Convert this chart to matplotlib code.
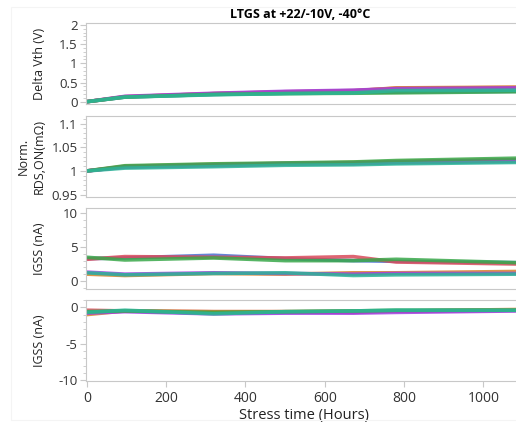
import matplotlib
matplotlib.use("Agg")
import matplotlib.pyplot as plt
from matplotlib.ticker import AutoMinorLocator

plt.rcParams['font.family'] = ['Open Sans', 'DejaVu Sans']

# stress time points (hours)
hours = [0, 96, 320, 500, 672, 780, 1086]

# delta Vth (V)
vth = {
    'blue':   [0, 0.12, 0.19, 0.22, 0.24, 0.25, 0.27],
    'red':    [0, 0.13, 0.21, 0.26, 0.29, 0.35, 0.37],
    'green':  [0, 0.12, 0.19, 0.21, 0.22, 0.23, 0.26],
    'purple': [0, 0.14, 0.22, 0.27, 0.30, 0.34, 0.36],
    'orange': [0, 0.13, 0.21, 0.25, 0.28, 0.36, 0.38],
    'teal':   [0, 0.12, 0.18, 0.21, 0.23, 0.29, 0.30],
}

# normalised RDS,ON
rds = {
    'blue':   [1, 1.008, 1.011, 1.014, 1.015, 1.017, 1.020],
    'red':    [1, 1.009, 1.012, 1.015, 1.016, 1.019, 1.022],
    'green':  [1, 1.011, 1.015, 1.017, 1.019, 1.022, 1.027],
    'purple': [1, 1.009, 1.013, 1.016, 1.017, 1.019, 1.023],
    'orange': [1, 1.010, 1.014, 1.016, 1.018, 1.020, 1.024],
    'teal':   [1, 1.006, 1.009, 1.012, 1.013, 1.015, 1.018],
}

# IGSS positive gate bias (nA)
igss_pos = {
    'blue':   [3.3, 3.4, 3.8, 3.3, 3.0, 2.9, 2.7],
    'red':    [3.2, 3.6, 3.5, 3.4, 3.6, 2.8, 2.5],
    'green':  [3.5, 3.1, 3.4, 3.0, 3.0, 3.2, 2.7],
    'purple': [1.3, 1.0, 1.2, 1.1, 1.0, 1.1, 1.1],
    'orange': [1.0, 0.8, 1.1, 1.0, 1.2, 1.2, 1.4],
    'teal':   [1.2, 0.9, 1.1, 1.2, 0.8, 0.9, 1.0],
}

# IGSS negative gate bias (nA)
igss_neg = {
    'blue':   [-0.7, -0.5, -0.8, -0.7, -0.6, -0.5, -0.4],
    'red':    [-0.4, -0.5, -0.6, -0.6, -0.7, -0.5, -0.4],
    'green':  [-0.6, -0.5, -0.7, -0.6, -0.5, -0.4, -0.4],
    'purple': [-0.8, -0.6, -0.9, -0.8, -0.8, -0.7, -0.5],
    'orange': [-1.0, -0.5, -0.6, -0.6, -0.5, -0.5, -0.3],
    'teal':   [-0.7, -0.4, -0.9, -0.6, -0.5, -0.4, -0.4],
}

colori = {
    'blue': '#4a6fd0', 'red': '#d94a5a', 'orange': '#d9822b',
    'purple': '#a03ee0', 'green': '#3aa84a', 'teal': '#2bb596',
}

pannelli = [
    (vth, 'Delta Vth (V)', (-0.06, 2.05), [0, 0.5, 1, 1.5, 2], ['0', '0.5', '1', '1.5', '2']),
    (rds, 'Norm.\nRDS,ON(m\u03a9)', (0.945, 1.116), [0.95, 1, 1.05, 1.1], ['0.95', '1', '1.05', '1.1']),
    (igss_pos, 'IGSS (nA)', (-1.2, 10.8), [0, 5, 10], ['0', '5', '10']),
    (igss_neg, 'IGSS (nA)', (-10.1, 1.0), [-10, -5, 0], ['-10', '-5', '0']),
]

fig = plt.figure(figsize=(5.16, 4.22), dpi=100)
fig.patches.append(plt.Rectangle((11 / 516, 2 / 422), 1, 413 / 422, transform=fig.transFigure,
                                 fill=False, edgecolor='#f4f4f4', lw=0.8))

bottoms = [1 - 104 / 422, 1 - 197 / 422, 1 - 289 / 422, 1 - 381 / 422]
h = 81 / 422
grigio = '#c8c8c8'
ordine = ['blue', 'red', 'orange', 'purple', 'green', 'teal']

for i, (dati, etichetta, ylim, ticks, tlab) in enumerate(pannelli):
    ax = fig.add_axes([86 / 516, bottoms[i], 1 - 86 / 516 + 0.01, h])
    for nome in ordine:
        ax.plot(hours, dati[nome], color=colori[nome], lw=2.6, alpha=0.85)
    ax.set_xlim(-2, 1095)
    ax.set_ylim(*ylim)
    ax.set_yticks(ticks)
    ax.set_yticklabels(tlab)
    ax.yaxis.set_minor_locator(AutoMinorLocator())
    for s in ax.spines.values():
        s.set_color(grigio)
    ax.spines['right'].set_visible(False)
    ax.tick_params(axis='y', colors=grigio, labelcolor='#333333', labelsize=9.5, length=4, pad=2)
    ax.tick_params(axis='y', which='minor', colors=grigio, length=2)
    ax.set_ylabel(etichetta, fontsize=9, color='#222222', linespacing=1.3,
                  multialignment='center')
    ax.yaxis.set_label_coords(-0.092, 0.5)
    if i < 3:
        ax.tick_params(axis='x', bottom=False, labelbottom=False)
    else:
        ax.set_xticks([0, 200, 400, 600, 800, 1000])
        ax.tick_params(axis='x', colors=grigio, labelcolor='#333333', labelsize=10, length=4)
        ax.set_xlabel('Stress time (Hours)', fontsize=10.5, color='#222222', labelpad=1)

fig.text(300 / 516, 1 - 14 / 422, 'LTGS at +22/-10V, -40\u00b0C', ha='center', va='center',
         fontsize=9, fontweight='bold')

fig.savefig('out.png', dpi=100)
